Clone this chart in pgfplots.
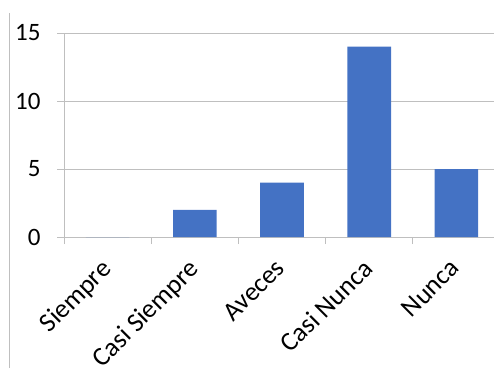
\documentclass[border=0pt]{standalone}
\usepackage{pgfplots}
\pgfplotsset{compat=1.18}
\usepackage{fontspec}
\setmainfont{Carlito}
\definecolor{barblue}{HTML}{4472C4}
\definecolor{gridgray}{HTML}{BFBFBF}
\begin{document}
\begin{tikzpicture}
\useasboundingbox (0pt,0pt) rectangle (494pt,368pt);
\clip (0pt,0pt) rectangle (494pt,368pt);
\draw[gridgray, line width=1pt] (9.5pt,0pt) -- (9.5pt,355pt);
\begin{axis}[
  at={(64pt,131pt)}, anchor=south west,
  scale only axis, width=436pt, height=204pt,
  xmin=0, xmax=5, ymin=0, ymax=15,
  axis x line*=bottom, axis y line*=left,
  axis line style={gridgray, line width=1pt},
  ytick={0,5,10,15},
  ymajorgrids, major grid style={gridgray, line width=1pt},
  xtick={0,1,2,3,4,5},
  x tick label as interval,
  xticklabels={Siempre,Casi Siempre,Aveces,Casi Nunca,Nunca},
  tick align=outside, major tick length=7pt,
  tick style={gridgray, line width=1pt},
  ticklabel style={font=\fontsize{25}{30}\selectfont, text=black},
  /pgf/number format/assume math mode=true,
  xticklabel style={font=\fontsize{26.5}{30}\selectfont, xshift=-8pt, yshift=-12pt, rotate=45, anchor=north east, inner sep=1pt},
  yticklabel style={anchor=east, xshift=-13pt},
  clip=false,
]
\addplot[ybar, bar width=0.5, fill=barblue, draw=none] coordinates {
  (0.5,0) (1.5,2) (2.5,4) (3.5,14) (4.5,5)
};
\end{axis}
\end{tikzpicture}
\end{document}
